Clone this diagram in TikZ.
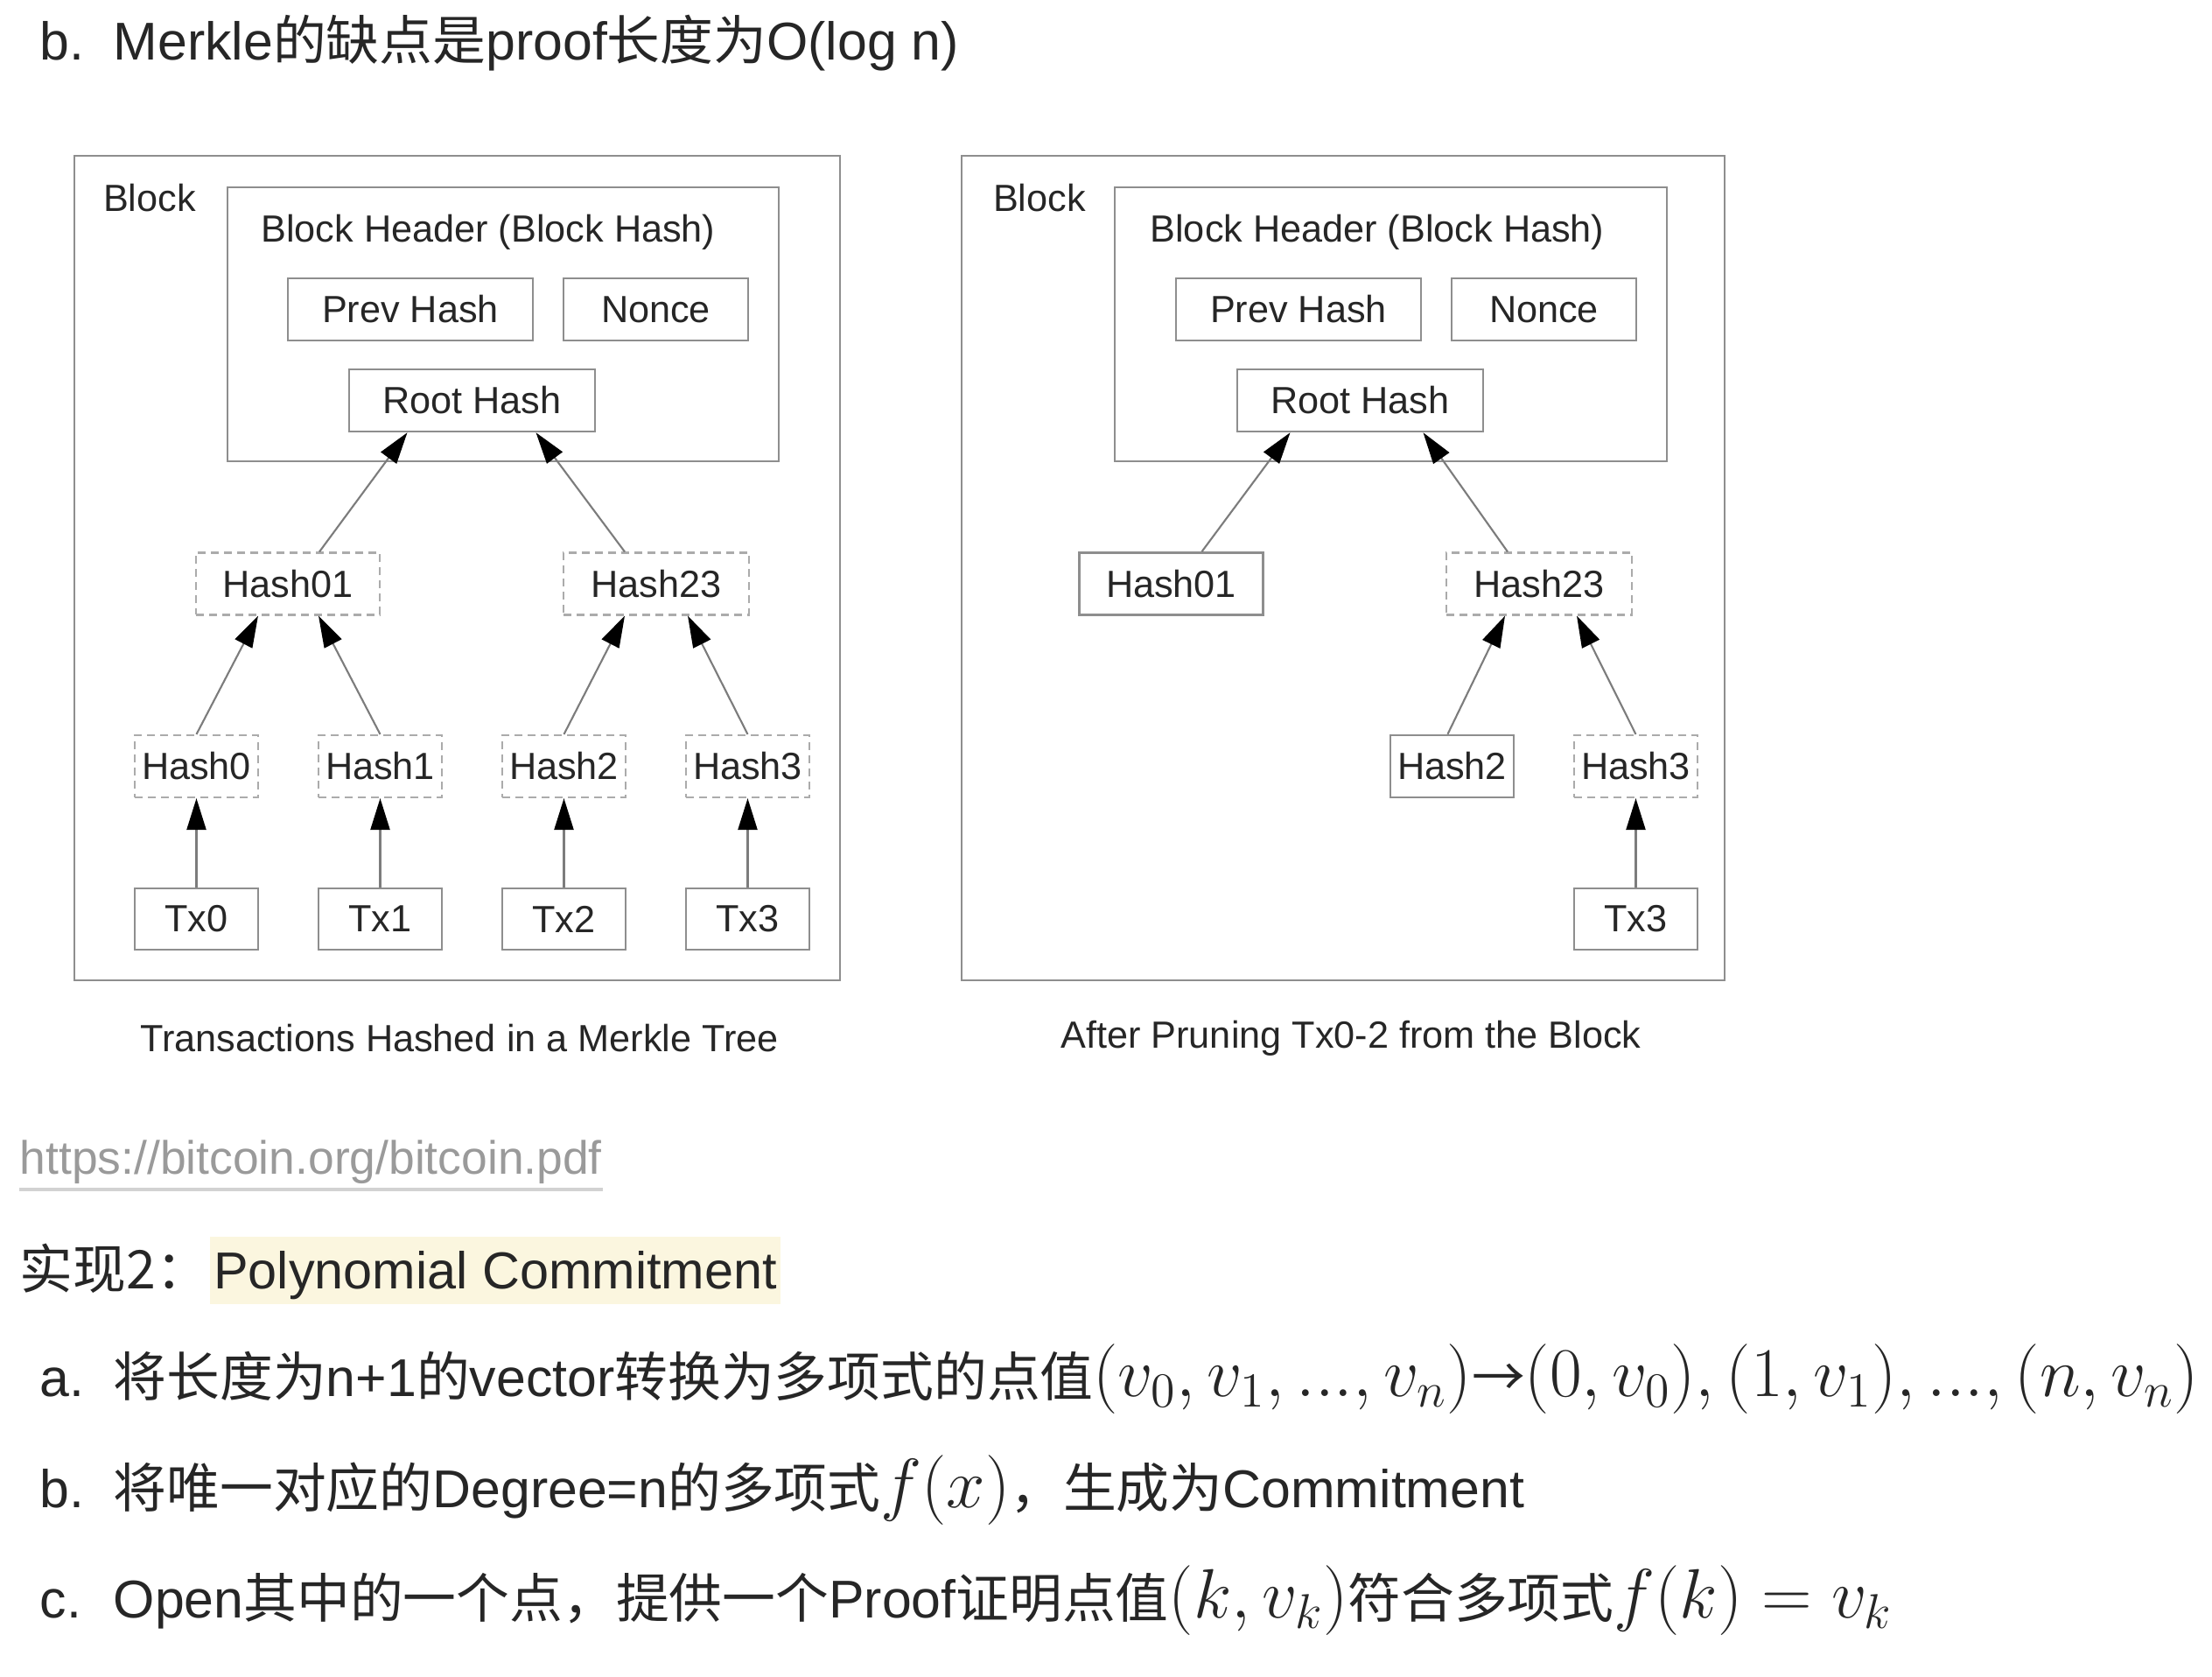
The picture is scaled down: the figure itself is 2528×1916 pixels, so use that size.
\RequirePackage{fix-cm}
\documentclass[tikz,border=0pt]{standalone}
\usepackage[no-math]{fontspec}
\setmainfont{Liberation Sans}
\newfontfamily\cjk{Noto Sans CJK SC}
\usetikzlibrary{arrows.meta,positioning}
\definecolor{ink}{HTML}{262626}
\definecolor{boxgray}{HTML}{8E8E8E}
\definecolor{dashgray}{HTML}{ABABAB}
\definecolor{linegray}{HTML}{7C7C7C}
\definecolor{linkgray}{HTML}{9A9A9A}
\definecolor{rulegray}{HTML}{D2D2D2}
\definecolor{hl}{HTML}{FBF6DF}
\newcommand\diagfont{\fontsize{12.3}{14}\selectfont}
\newcommand\notefont{\fontsize{17.3}{20}\selectfont}
\newcommand\linkfont{\fontsize{15.2}{18}\selectfont}
\newcommand\mathsz{\fontsize{22.7}{26}\selectfont}

\begin{document}
\begin{tikzpicture}[x=0.1mm,y=-0.1mm,
  frame/.style={draw=boxgray,line width=0.8pt},
  cell/.style={draw=boxgray,line width=0.7pt,inner sep=0pt,minimum height=7.1mm,font=\diagfont,text=ink},
  ghost/.style={cell,draw=dashgray,line width=0.6pt,dash pattern=on 0.9mm off 0.6mm},
  lbl/.style={inner sep=0pt,font=\diagfont,text=ink},
  up/.style={draw=linegray,line width=0.6pt,-{Triangle[length=3.6mm,width=2.2mm,color=black]}},
  note/.style={anchor=base west,inner sep=0pt,font=\notefont,text=ink}]
\useasboundingbox[fill=white] (0,0) rectangle (2528,1916);

% title line
\node[note] (tmark) at (45,69) {b.};
\node[note] (title) at (129,69) {Merkle{\cjk 的缺点是}proof{\cjk 长度为}O(log n)};

% left block: full merkle tree
\draw[frame] (85,178) rectangle (960,1120);
\node[lbl] (lblock) at (171,226) {Block};
\draw[frame] (260,214) rectangle (890,527);
\node[lbl] (lhead) at (558,265) {Block Header (Block Hash)};
\node[cell,minimum width=28mm] (lprev) at (469,353.5) {Prev Hash};
\node[cell,minimum width=21.1mm] (lnonce) at (749.5,353.5) {Nonce};
\node[cell,minimum width=28.1mm] (lroot) at (539.5,457.5) {Root Hash};
\node[ghost,minimum width=21mm] (lh01) at (329,667) {Hash01};
\node[ghost,minimum width=21.2mm] (lh23) at (750,667) {Hash23};
\node[ghost,minimum width=14.1mm] (lh0) at (224.5,875.5) {Hash0};
\node[ghost,minimum width=14.1mm] (lh1) at (434.5,875.5) {Hash1};
\node[ghost,minimum width=14.1mm] (lh2) at (644.5,875.5) {Hash2};
\node[ghost,minimum width=14.1mm] (lh3) at (854.5,875.5) {Hash3};
\node[cell,minimum width=14.1mm,minimum height=7mm] (ltx0) at (224.5,1050) {Tx0};
\node[cell,minimum width=14.1mm,minimum height=7mm] (ltx1) at (434.5,1050) {Tx1};
\node[cell,minimum width=14.1mm,minimum height=7mm] (ltx2) at (644.5,1050) {Tx2};
\node[cell,minimum width=14.1mm,minimum height=7mm] (ltx3) at (854.5,1050) {Tx3};
\draw[up] (ltx0) -- (lh0);
\draw[up] (ltx1) -- (lh1);
\draw[up] (ltx2) -- (lh2);
\draw[up] (ltx3) -- (lh3);
\draw[up] (lh0.north) -- ([xshift=-3.4mm]lh01.south);
\draw[up] (lh1.north) -- ([xshift=3.5mm]lh01.south);
\draw[up] (lh2.north) -- ([xshift=-3.6mm]lh23.south);
\draw[up] (lh3.north) -- ([xshift=3.6mm]lh23.south);
\draw[up] ([xshift=3.6mm]lh01.north) -- ([xshift=-7.4mm]lroot.south);
\draw[up] ([xshift=-3.6mm]lh23.north) -- ([xshift=7.3mm]lroot.south);
\node[lbl] (lcap) at (525,1186) {Transactions Hashed in a Merkle Tree};

% right block: after pruning
\draw[frame] (1099,178) rectangle (1971,1120);
\node[lbl] (rblock) at (1188,226) {Block};
\draw[frame] (1274,214) rectangle (1905,527);
\node[lbl] (rhead) at (1574,265) {Block Header (Block Hash)};
\node[cell,minimum width=28mm] (rprev) at (1484,353.5) {Prev Hash};
\node[cell,minimum width=21.1mm] (rnonce) at (1764.5,353.5) {Nonce};
\node[cell,minimum width=28.1mm] (rroot) at (1554.5,457.5) {Root Hash};
\node[cell,minimum width=21mm] (rh01) at (1338.5,667) {Hash01};
\node[ghost,minimum width=21.2mm] (rh23) at (1759,667) {Hash23};
\node[cell,minimum width=14.1mm] (rh2) at (1659.5,875.5) {Hash2};
\node[ghost,minimum width=14.1mm] (rh3) at (1869.5,875.5) {Hash3};
\node[cell,minimum width=14.1mm,minimum height=7mm] (rtx3) at (1869.5,1050) {Tx3};
\draw[up] (rtx3) -- (rh3);
\draw[up] ([xshift=-0.5mm]rh2.north) -- ([xshift=-3.9mm]rh23.south);
\draw[up] (rh3.north) -- ([xshift=4.3mm]rh23.south);
\draw[up] ([xshift=3.5mm]rh01.north) -- ([xshift=-8mm]rroot.south);
\draw[up] ([xshift=-3.6mm]rh23.north) -- ([xshift=7.2mm]rroot.south);
\node[lbl] (rcap) at (1544,1186) {After Pruning Tx0-2 from the Block};

% source link
\node[note,font=\linkfont,text=linkgray] (link) at (22,1342) {https://bitcoin.org/bitcoin.pdf};
\draw[rulegray,line width=1.1pt] ([yshift=-1.7mm]link.base west) -- ([yshift=-1.7mm]link.base east);

% heading
\node[note] (head) at (22,1473) {\cjk 实现2：};
\node[note,font=\fontsize{16.9}{20}\selectfont,fill=hl,inner xsep=0.4mm,inner ysep=0.9mm,text height=5.1mm,text depth=0.8mm] (pc) at (head.base east) {Polynomial Commitment};

% list items
\node[note] (ma) at (45,1596) {a.};
\node[note] (ia) at (129,1596) {{\cjk 将长度为}n+1{\cjk 的}vector{\cjk 转换为多项式的点值}{\mathsz$(v_0, v_1, ..., v_n)$}{\cjk →}{\mathsz$(0, v_0), (1, v_1), ..., (n, v_n)$}};
\node[note] (mb) at (45,1722) {b.};
\node[note] (ib) at (129,1722) {{\cjk 将唯一对应的}Degree=n{\cjk 的多项式}{\mathsz$f(x)$}{\cjk ，生成为}Commitment};
\node[note] (mc) at (45,1849) {c.};
\node[note] (ic) at (129,1849) {Open{\cjk 其中的一个点，提供一个}Proof{\cjk 证明点值}{\mathsz$(k, v_k)$}{\cjk 符合多项式}{\mathsz$f(k) = v_k$}};
\end{tikzpicture}
\end{document}
